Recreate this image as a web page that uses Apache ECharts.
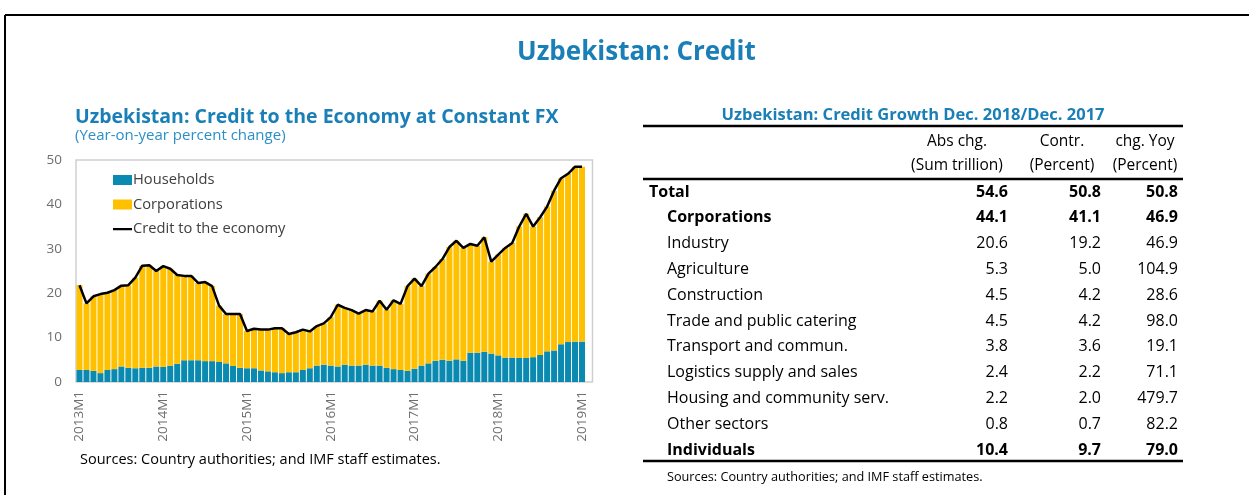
<!DOCTYPE html>
<html>
<head>
<meta charset="utf-8">
<script src="https://cdn.jsdelivr.net/npm/echarts@6/dist/echarts.min.js"></script>
<style>
html,body{margin:0;padding:0;background:#fff;}
#c{width:1249px;height:495px;}
</style>
</head>
<body>
<div id="c"></div>
<script>
// ---------- Chart data ----------
const startYear = 2013, nMonths = 73;
const categories = [];
for (let i = 0; i < nMonths; i++) {
  categories.push((startYear + Math.floor(i / 12)) + 'M' + (i % 12 + 1));
}
const households = [
  2.7,2.7,2.5,2.0,2.7,2.9,3.5,3.2,3.1,3.2,3.2,3.5,
  3.4,3.7,4.1,4.9,4.9,4.9,4.7,4.7,4.5,4.2,3.6,3.2,
  3.1,3.1,2.6,2.4,2.2,2.0,2.2,2.2,2.7,3.1,3.7,3.9,
  3.7,3.5,3.9,3.7,3.7,3.9,3.7,3.7,3.2,2.9,2.7,2.5,
  3.0,3.7,4.2,4.8,5.0,4.8,5.1,4.8,6.6,6.6,6.8,6.4,
  6.0,5.5,5.5,5.4,5.4,5.6,6.1,6.9,7.1,8.5,9.0,9.1,9.1
];
const corporations = [
  19.1,15.0,16.8,17.8,17.4,17.8,18.2,18.6,20.4,23.0,23.1,21.5,
  22.7,21.8,20.0,19.0,19.0,17.4,17.8,16.9,12.7,11.1,11.7,12.1,
  8.4,8.9,9.2,9.4,9.9,10.1,8.6,9.0,9.1,8.3,8.9,9.3,
  10.9,13.9,12.8,12.5,11.7,12.3,12.2,14.6,13.1,15.5,14.9,19.1,
  20.3,17.9,20.2,21.1,22.7,25.6,26.7,25.4,24.5,24.1,25.8,20.7,
  22.7,24.7,25.8,29.6,32.5,29.4,31.0,32.6,36.0,37.4,37.9,39.4,39.4
];
const creditTotal = [
  21.8,17.7,19.3,19.8,20.1,20.7,21.7,21.8,23.5,26.2,26.3,25.0,
  26.1,25.5,24.1,23.9,23.9,22.3,22.5,21.6,17.2,15.3,15.3,15.3,
  11.5,12.0,11.8,11.8,12.1,12.1,10.8,11.2,11.8,11.4,12.6,13.2,
  14.6,17.4,16.7,16.2,15.4,16.2,15.9,18.3,16.3,18.4,17.6,21.6,
  23.3,21.6,24.4,25.9,27.7,30.4,31.8,30.2,31.1,30.7,32.6,27.1,
  28.7,30.2,31.3,35.0,37.9,35.0,37.1,39.5,43.1,45.9,46.9,48.5,48.5
];
const yTicks = [0, 10, 20, 30, 40, 50];

// ---------- Table data ----------
const tableTitle = 'Uzbekistan: Credit Growth Dec. 2018/Dec. 2017';
const colHead1 = ['Abs chg.', 'Contr.', 'chg. Yoy'];
const colHead2 = ['(Sum trillion)', '(Percent)', '(Percent)'];
const rowLabels = ['Total','Corporations','Industry','Agriculture','Construction','Trade and public catering','Transport and commun.','Logistics supply and sales','Housing and community serv.','Other sectors','Individuals'];
const absChg  = ['54.6','44.1','20.6','5.3','4.5','4.5','3.8','2.4','2.2','0.8','10.4'];
const contr   = ['50.8','41.1','19.2','5.0','4.2','4.2','3.6','2.2','2.0','0.7','9.7'];
const chgYoy  = ['50.8','46.9','46.9','104.9','28.6','98.0','19.1','71.1','479.7','82.2','79.0'];
const boldRows = [true,true,false,false,false,false,false,false,false,false,true];
const indentRows = [false,true,true,true,true,true,true,true,true,true,true];

// ---------- Layout ----------
const FONT = '"Open Sans", "Noto Sans", sans-serif';
const BLUE = '#1a7fb7';
const tbl = { left: 643, right: 1183, col: [1008, 1101, 1178], colHeadC: [957, 1062, 1145],
              rowY0: 192, rowH: 25.8 };
const VA = {textVerticalAlign:'middle', verticalAlign:'middle'};

const graphics = [];
// frame
graphics.push({type:'line', shape:{x1:5,y1:15,x2:1249,y2:15}, style:{stroke:'#000',lineWidth:2}});
graphics.push({type:'line', shape:{x1:5,y1:15,x2:5,y2:495}, style:{stroke:'#000',lineWidth:2}});
// plot border
graphics.push({type:'rect', shape:{x:76,y:160,width:516.5,height:222}, style:{fill:'none',stroke:'#cfcfcf',lineWidth:1.5}, z:-1});
// chart headings
graphics.push({type:'text', x:75, y:117.5, style:Object.assign({text:'Uzbekistan: Credit to the Economy at Constant FX', fill:BLUE, font:'bold 19.5px '+FONT}, VA)});
graphics.push({type:'text', x:75, y:135.5, style:Object.assign({text:'(Year-on-year percent change)', fill:'#2b8fc6', font:'15px '+FONT}, VA)});
graphics.push({type:'text', x:80, y:459.5, style:Object.assign({text:'Sources: Country authorities; and IMF staff estimates.', fill:'#000', font:'14.5px '+FONT}, VA)});
// table
graphics.push({type:'text', x:(tbl.left+tbl.right)/2, y:115, style:Object.assign({text:tableTitle, fill:BLUE, font:'bold 16.5px '+FONT, textAlign:'center', align:'center'}, VA)});
graphics.push({type:'line', shape:{x1:tbl.left,y1:126,x2:tbl.right,y2:126}, style:{stroke:'#000',lineWidth:2.5}});
graphics.push({type:'line', shape:{x1:tbl.left,y1:179,x2:tbl.right,y2:179}, style:{stroke:'#000',lineWidth:2.5}});
graphics.push({type:'line', shape:{x1:tbl.left,y1:461,x2:tbl.right,y2:461}, style:{stroke:'#000',lineWidth:2.5}});
for (let c = 0; c < 3; c++) {
  graphics.push({type:'text', x:tbl.colHeadC[c], y:142, style:Object.assign({text:colHead1[c], fill:'#000', font:'15.5px '+FONT, textAlign:'center', align:'center'}, VA)});
  graphics.push({type:'text', x:tbl.colHeadC[c], y:166, style:Object.assign({text:colHead2[c], fill:'#000', font:'15.5px '+FONT, textAlign:'center', align:'center'}, VA)});
}
const cols = [absChg, contr, chgYoy];
for (let r = 0; r < rowLabels.length; r++) {
  const y = tbl.rowY0 + r * tbl.rowH;
  const f = (boldRows[r] ? 'bold ' : '') + '16px ' + FONT;
  graphics.push({type:'text', x: indentRows[r] ? 667 : 649, y, style:Object.assign({text:rowLabels[r], fill:'#000', font:f}, VA)});
  for (let c = 0; c < 3; c++) {
    graphics.push({type:'text', x:tbl.col[c], y, style:Object.assign({text:cols[c][r], fill:'#000', font:f, textAlign:'right', align:'right'}, VA)});
  }
}
graphics.push({type:'text', x:667, y:477, style:Object.assign({text:'Sources: Country authorities; and IMF staff estimates.', fill:'#000', font:'12.7px '+FONT}, VA)});

const chart = echarts.init(document.getElementById('c'), null, {renderer:'canvas'});
chart.setOption({
  animation: false,
  backgroundColor: '#fff',
  title: {
    text: 'Uzbekistan: Credit', left: 512, top: 35,
    textStyle: {color: BLUE, fontSize: 26, fontWeight: 'bold', fontFamily: FONT}
  },
  legend: {
    orient: 'vertical', left: 108, top: 167.5, itemGap: 9.5,
    itemWidth: 19, itemHeight: 10,
    textStyle: {color: '#404040', fontSize: 14.7, fontFamily: FONT, padding:[0,0,0,-4]},
    data: [
      {name: 'Households', icon: 'rect'},
      {name: 'Corporations', icon: 'rect'},
      {name: 'Credit to the economy', icon: 'path://M0,0 L0.01,0 M0,4 L20,4 L20,6.2 L0,6.2 Z M20,10 L19.99,10',
       itemStyle: {color: '#000'}}
    ]
  },
  grid: {left: 76, top: 160, width: 509.5, height: 222, containLabel: false},
  xAxis: {
    type: 'category', data: categories, boundaryGap: true,
    axisLine: {show: false}, axisTick: {show: false},
    axisLabel: {
      rotate: 90, color: '#6e6e6e', fontSize: 13.5, fontFamily: FONT, margin: 9,
      interval: function (idx) { return idx % 12 === 0; }
    }
  },
  yAxis: {
    type: 'value', min: yTicks[0], max: yTicks[yTicks.length-1], interval: 10,
    axisLine: {show: false}, axisTick: {show: false}, splitLine: {show: false},
    axisLabel: {color: '#6e6e6e', fontSize: 13.5, fontFamily: FONT, margin: 14}
  },
  series: [
    {name: 'Households', type: 'bar', stack: 'c', data: households, barCategoryGap: '14%',
     itemStyle: {color: '#0a8ab0'}},
    {name: 'Corporations', type: 'bar', stack: 'c', data: corporations, barCategoryGap: '14%',
     itemStyle: {color: '#ffc000'}},
    {name: 'Credit to the economy', type: 'line', data: creditTotal, symbol: 'none',
     lineStyle: {color: '#000', width: 2.5}, itemStyle:{color:'#000'}, z: 5}
  ],
  graphic: graphics
});
</script>
</body>
</html>
